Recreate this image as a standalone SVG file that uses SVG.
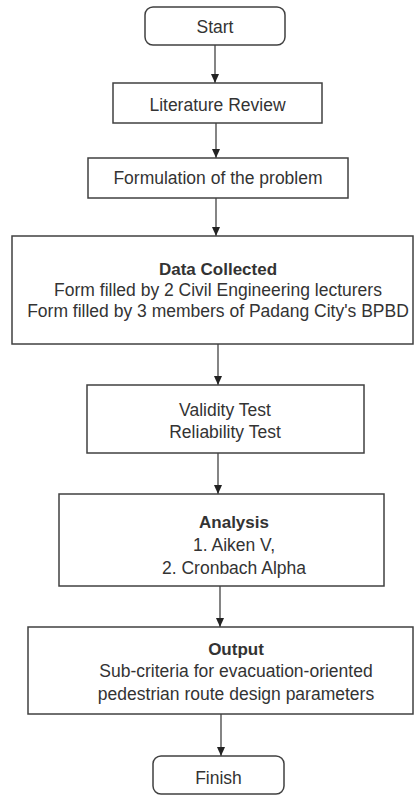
<svg xmlns="http://www.w3.org/2000/svg" width="415" height="797" viewBox="0 0 415 797">
  <style>
    .box { fill: #ffffff; stroke: #404040; stroke-width: 1.5; }
    .t { font-family: "Liberation Sans", Arial, sans-serif; font-size: 17.5px; fill: #333333; text-anchor: middle; }
    .b { font-weight: bold; font-size: 17px; }
    .link { stroke: #333333; stroke-width: 1.2; fill: none; marker-end: url(#arrow); }
  </style>
  <defs>
    <marker id="arrow" markerWidth="10" markerHeight="10" refX="9" refY="5" orient="auto" markerUnits="userSpaceOnUse">
      <path d="M0,1 L9,5 L0,9 Z" fill="#222222"/>
    </marker>
  </defs>
  <rect width="415" height="797" fill="#ffffff"/>

  <g id="connectors">
    <line class="link" x1="215" y1="45" x2="215" y2="83"/>
    <line class="link" x1="216" y1="123" x2="216" y2="158"/>
    <line class="link" x1="216" y1="198" x2="216" y2="236"/>
    <line class="link" x1="218" y1="344" x2="218" y2="385"/>
    <line class="link" x1="218" y1="453" x2="218" y2="494"/>
    <line class="link" x1="220" y1="586" x2="220" y2="627"/>
    <line class="link" x1="221" y1="714" x2="221" y2="756"/>
  </g>

  <g id="start">
    <rect class="box" x="145" y="7" width="140" height="38" rx="8"/>
    <text class="t" x="215" y="33">Start</text>
  </g>

  <g id="literature-review">
    <rect class="box" x="113" y="83" width="209" height="40"/>
    <text class="t" x="217.5" y="111">Literature Review</text>
  </g>

  <g id="formulation">
    <rect class="box" x="88" y="158" width="260" height="40"/>
    <text class="t" x="218" y="184">Formulation of the problem</text>
  </g>

  <g id="data-collected">
    <rect class="box" x="12" y="236" width="401" height="108"/>
    <text class="t b" x="218" y="275">Data Collected</text>
    <text class="t" x="218" y="296">Form filled by 2 Civil Engineering lecturers</text>
    <text class="t" x="218" y="317">Form filled by 3 members of Padang City's BPBD</text>
  </g>

  <g id="tests">
    <rect class="box" x="87" y="385" width="277" height="68"/>
    <text class="t" x="225" y="416">Validity Test</text>
    <text class="t" x="225" y="438">Reliability Test</text>
  </g>

  <g id="analysis">
    <rect class="box" x="59" y="494" width="325" height="92"/>
    <text class="t b" x="234" y="528">Analysis</text>
    <text class="t" x="234" y="551">1. Aiken V,</text>
    <text class="t" x="234" y="574">2. Cronbach Alpha</text>
  </g>

  <g id="output">
    <rect class="box" x="28" y="627" width="385" height="87"/>
    <text class="t b" x="236" y="655">Output</text>
    <text class="t" x="236" y="677">Sub-criteria for evacuation-oriented</text>
    <text class="t" x="236" y="700">pedestrian route design parameters</text>
  </g>

  <g id="finish">
    <rect class="box" x="153" y="756" width="131" height="38" rx="8"/>
    <text class="t" x="218.5" y="784">Finish</text>
  </g>
</svg>
